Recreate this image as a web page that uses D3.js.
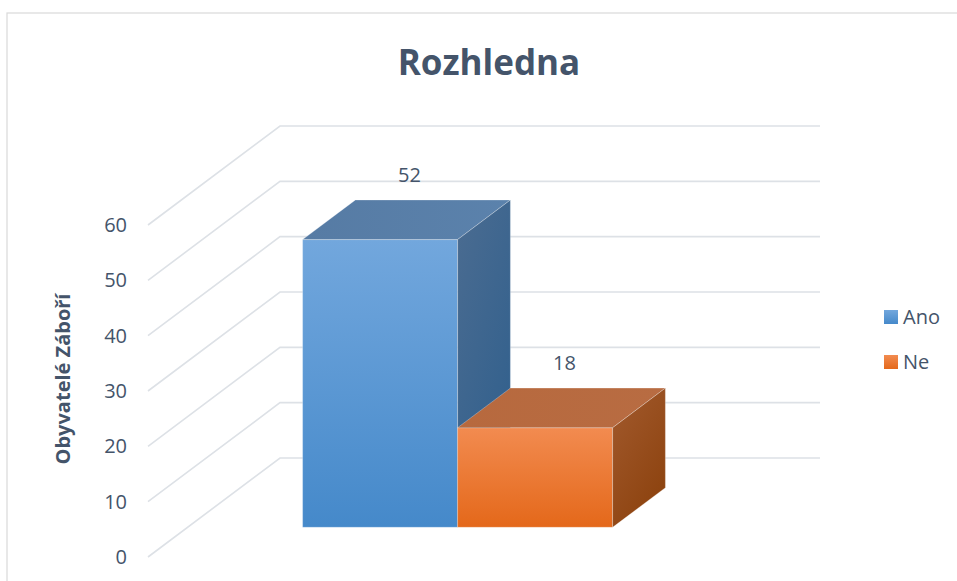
<!DOCTYPE html>
<html lang='cs'>
<meta charset='utf-8'>
<style>
  body{margin:0;background:#fff;}
  svg{display:block;font-family:'Open Sans',sans-serif;}
</style>
<body>
<svg width='957' height='581'></svg>
<script src='https://cdn.jsdelivr.net/npm/d3@7'></script>
<script>
  const title = 'Rozhledna'
  const axisTitle = 'Obyvatelé Záboří'
  const seriesNames = ['Ano', 'Ne']
  const seriesValues = [52, 18]
  const yTicks = [0, 10, 20, 30, 40, 50, 60]

  const svg = d3.select('svg')
  const textColor = '#44546a'

  // skala na prednim okraji, zadni stena je posunuta o vektor hloubky
  const y = d3.scaleLinear().domain([0, 60]).range([557, 225])
  const x = d3.scaleBand().domain(seriesNames).range([148, 688]).paddingInner(0).paddingOuter(0.742)
  const depth = {dx: 132, dy: -99}
  const d0 = 0.3, d1 = 0.7

  const proj = (px, v, d) => [px + d * depth.dx, y(v) + d * depth.dy]

  // ramecek grafu
  svg.append('rect')
    .attr('x', 7).attr('y', 13).attr('width', 980).attr('height', 600)
    .attr('fill', 'none').attr('stroke', '#d9d9d9').attr('stroke-width', 1.2)

  // barvy ploch
  const faces = {
    Ano: {front: ['#72a7dd', '#4589ca'], top: ['#567ba4', '#5b82ac'], side: ['#4b6c91', '#31608d']},
    Ne: {front: ['#f28b50', '#e4681a'], top: ['#b7693e', '#b86c42'], side: ['#a25a2e', '#8d430f']}
  }
  const defs = svg.append('defs')
  const grad = (id, c, x2, y2) => {
    const g = defs.append('linearGradient').attr('id', id)
      .attr('x1', 0).attr('y1', 0).attr('x2', x2).attr('y2', y2)
    g.append('stop').attr('offset', '0%').attr('stop-color', c[0])
    g.append('stop').attr('offset', '100%').attr('stop-color', c[1])
  }
  seriesNames.forEach((s) => {
    grad(`front-${s}`, faces[s].front, 0, 1)
    grad(`top-${s}`, faces[s].top, 1, 0)
    grad(`side-${s}`, faces[s].side, 0.6, 1)
  })

  // mrizka: sikma cast na bocni stene + vodorovna na zadni stene
  const grid = svg.append('g').attr('fill', 'none').attr('stroke', '#dde1e6').attr('stroke-width', 1.6)
  yTicks.forEach((t) => {
    const a = proj(148, t, 0), b = proj(148, t, 1), c = proj(688, t, 1)
    grid.append('polyline').attr('points', [a, b, c].map(p => p.join(',')).join(' '))
  })

  // popisky osy y
  svg.append('g').selectAll('text').data(yTicks).join('text')
    .attr('x', 127).attr('y', d => y(d))
    .attr('dy', '0.35em').attr('text-anchor', 'end')
    .attr('font-size', 20).attr('fill', textColor)
    .text(d => d)

  // sloupce
  const bw = x.bandwidth()
  const pts = arr => arr.map(p => p.join(',')).join(' ')
  const bars = svg.append('g')
  seriesNames.forEach((s, i) => {
    const v = seriesValues[i]
    const x0 = x(s), x1 = x0 + bw
    const g = bars.append('g').attr('stroke', 'rgba(255,255,255,0.35)').attr('stroke-width', 0.8)
    g.append('polygon').attr('fill', `url(#front-${s})`)
      .attr('points', pts([proj(x0, 0, d0), proj(x1, 0, d0), proj(x1, v, d0), proj(x0, v, d0)]))
    g.append('polygon').attr('fill', `url(#top-${s})`)
      .attr('points', pts([proj(x0, v, d0), proj(x1, v, d0), proj(x1, v, d1), proj(x0, v, d1)]))
    g.append('polygon').attr('fill', `url(#side-${s})`)
      .attr('points', pts([proj(x1, 0, d0), proj(x1, 0, d1), proj(x1, v, d1), proj(x1, v, d0)]))
  })

  // hodnoty nad sloupci
  svg.append('g').selectAll('text').data(seriesNames).join('text')
    .attr('x', (d) => proj(x(d) + bw / 2, 0, 0.5)[0] + 3)
    .attr('y', (d, i) => proj(0, seriesValues[i], d1)[1] - 25)
    .attr('dy', '0.35em').attr('text-anchor', 'middle')
    .attr('font-size', 20).attr('fill', textColor)
    .text((d, i) => seriesValues[i])

  // nadpis
  svg.append('text')
    .attr('x', 489).attr('y', 75).attr('text-anchor', 'middle')
    .attr('font-size', 35).attr('font-weight', 'bold').attr('fill', textColor)
    .text(title)

  // nazev osy
  svg.append('text')
    .attr('transform', 'translate(70,379) rotate(-90)')
    .attr('text-anchor', 'middle')
    .attr('font-size', 20).attr('font-weight', 'bold').attr('fill', textColor)
    .text(axisTitle)

  // legenda
  const legend = svg.append('g').selectAll('g').data(seriesNames).join('g')
    .attr('transform', (d, i) => `translate(884,${310 + i * 45})`)
  legend.append('rect').attr('width', 14).attr('height', 14)
    .attr('fill', d => `url(#front-${d})`)
  legend.append('text').attr('x', 19).attr('y', 7).attr('dy', '0.35em')
    .attr('font-size', 20).attr('fill', textColor)
    .text(d => d)
</script>
</body>
</html>
